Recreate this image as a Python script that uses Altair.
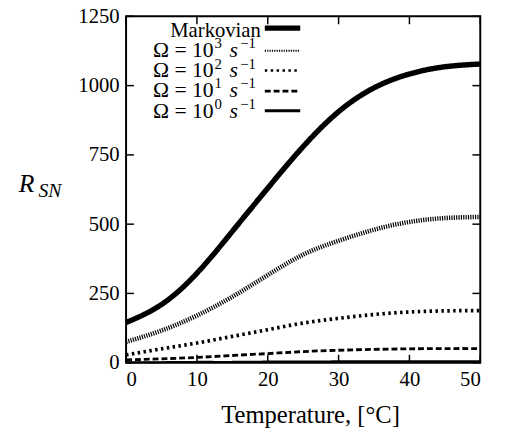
import altair as alt
import pandas as pd

# Temperature grid (°C)
temps = [0, 5, 10, 15, 20, 25, 30, 35, 40, 45, 50]

# Series values
markovian = [145, 210, 323, 474, 630, 780, 906, 992, 1042, 1068, 1078]
omega_1e3 = [75, 116, 170, 238, 316, 390, 440, 480, 508, 522, 526]
omega_1e2 = [28, 50, 71, 95, 119, 143, 160, 174, 183, 187, 188]
omega_1e1 = [10, 14, 19, 26, 33, 40, 45, 48, 50, 51, 51]
omega_1e0 = [2, 2, 3, 3, 4, 4, 5, 5, 5, 5, 5]

series_names = ["Markovian", "Ω = 10³ s⁻¹", "Ω = 10² s⁻¹", "Ω = 10¹ s⁻¹", "Ω = 10⁰ s⁻¹"]
omega_exponents = ["3", "2", "1", "0"]
series_values = [markovian, omega_1e3, omega_1e2, omega_1e1, omega_1e0]

x_ticks = [0, 10, 20, 30, 40, 50]
y_ticks = [0, 250, 500, 750, 1000, 1250]

# styles
dashes = [[1, 0], [1.2, 1.2], [2.5, 3.5], [6, 3], [1, 0]]
widths = [5.5, 2, 2.5, 3, 3]

FONT = "Liberation Serif"
W, H = 360, 352

rows = []
for name, vals in zip(series_names, series_values):
    for t, v in zip(temps, vals):
        rows.append({"T": t, "R": v, "series": name})
df = pd.DataFrame(rows)

xscale = alt.Scale(domain=[0, 50], nice=False)
yscale = alt.Scale(domain=[0, 1250], nice=False)

lines = alt.Chart(df).mark_line(color="black", interpolate="natural").encode(
    x=alt.X("T:Q", scale=xscale,
            axis=alt.Axis(values=x_ticks, ticks=False, domain=False, grid=False, format="d",
                          labelFont=FONT, labelFontSize=21, labelColor="black",
                          labelPadding=6, title="Temperature, [°C]",
                          titleFont=FONT, titleFontSize=25, titleFontWeight="normal",
                          titleColor="black", titleX=187, titleY=61, titleAlign="center",
                          titleBaseline="alphabetic")),
    y=alt.Y("R:Q", scale=yscale,
            axis=alt.Axis(values=y_ticks, ticks=False, domain=False, grid=False, format="d",
                          labelFont=FONT, labelFontSize=21, labelColor="black",
                          labelPadding=7, title=None)),
    strokeDash=alt.StrokeDash("series:N", scale=alt.Scale(domain=series_names, range=dashes), legend=None),
    strokeWidth=alt.StrokeWidth("series:N", scale=alt.Scale(domain=series_names, range=widths), legend=None),
    detail="series:N",
)

xt = pd.DataFrame({"T": x_ticks})
yt = pd.DataFrame({"R": y_ticks})
TL = 8
tick_style = dict(color="black", strokeWidth=1.5)
ticks = [
    alt.Chart(xt).mark_rule(**tick_style).encode(x=alt.X("T:Q", scale=xscale), y=alt.value(H), y2=alt.value(H - TL)),
    alt.Chart(xt).mark_rule(**tick_style).encode(x=alt.X("T:Q", scale=xscale), y=alt.value(0), y2=alt.value(TL)),
    alt.Chart(yt).mark_rule(**tick_style).encode(y=alt.Y("R:Q", scale=yscale), x=alt.value(0), x2=alt.value(TL)),
    alt.Chart(yt).mark_rule(**tick_style).encode(y=alt.Y("R:Q", scale=yscale), x=alt.value(W), x2=alt.value(W - TL)),
]


def txt(s, x, y, size, align="left", style="normal"):
    return alt.Chart(pd.DataFrame({"t": [s]})).mark_text(
        align=align, baseline="alphabetic", font=FONT, fontSize=size,
        fontStyle=style, color="black").encode(text="t:N", x=alt.value(x), y=alt.value(y))


# manual legend (labels right-aligned, samples on the right)
legend_layers = []
baselines = [21, 41, 62, 82, 103]
sample_y = [12, 35, 55, 76, 96]
legend_layers.append(txt(series_names[0], 137, baselines[0], 21, align="right"))
for i, ex in enumerate(omega_exponents):
    b = baselines[i + 1]
    legend_layers.append(txt("Ω = 10", 89, b, 22, align="right"))
    legend_layers.append(txt(ex, 90, b - 9, 15))
    legend_layers.append(txt("s", 105, b, 22, style="italic"))
    legend_layers.append(txt("−1", 116, b - 9, 15))
for i, name in enumerate(series_names):
    d = pd.DataFrame({"label": [name]})
    legend_layers.append(
        alt.Chart(d).mark_rule(color="black", strokeWidth=widths[i], strokeDash=dashes[i])
        .encode(x=alt.value(141), x2=alt.value(177), y=alt.value(sample_y[i]))
    )

# y title R_SN
ytitle = [
    txt("R", -109, 179, 26, style="italic"),
    txt("SN", -89, 184, 20, style="italic"),
]

chart = alt.layer(lines, *ticks, *legend_layers, *ytitle).properties(
    width=W, height=H,
    padding={"left": 120, "top": 5, "right": 17, "bottom": 70},
    autosize="none",
).configure_view(stroke="black", strokeWidth=2)

chart.save("out.html", embed_options={"renderer": "svg", "actions": False})
